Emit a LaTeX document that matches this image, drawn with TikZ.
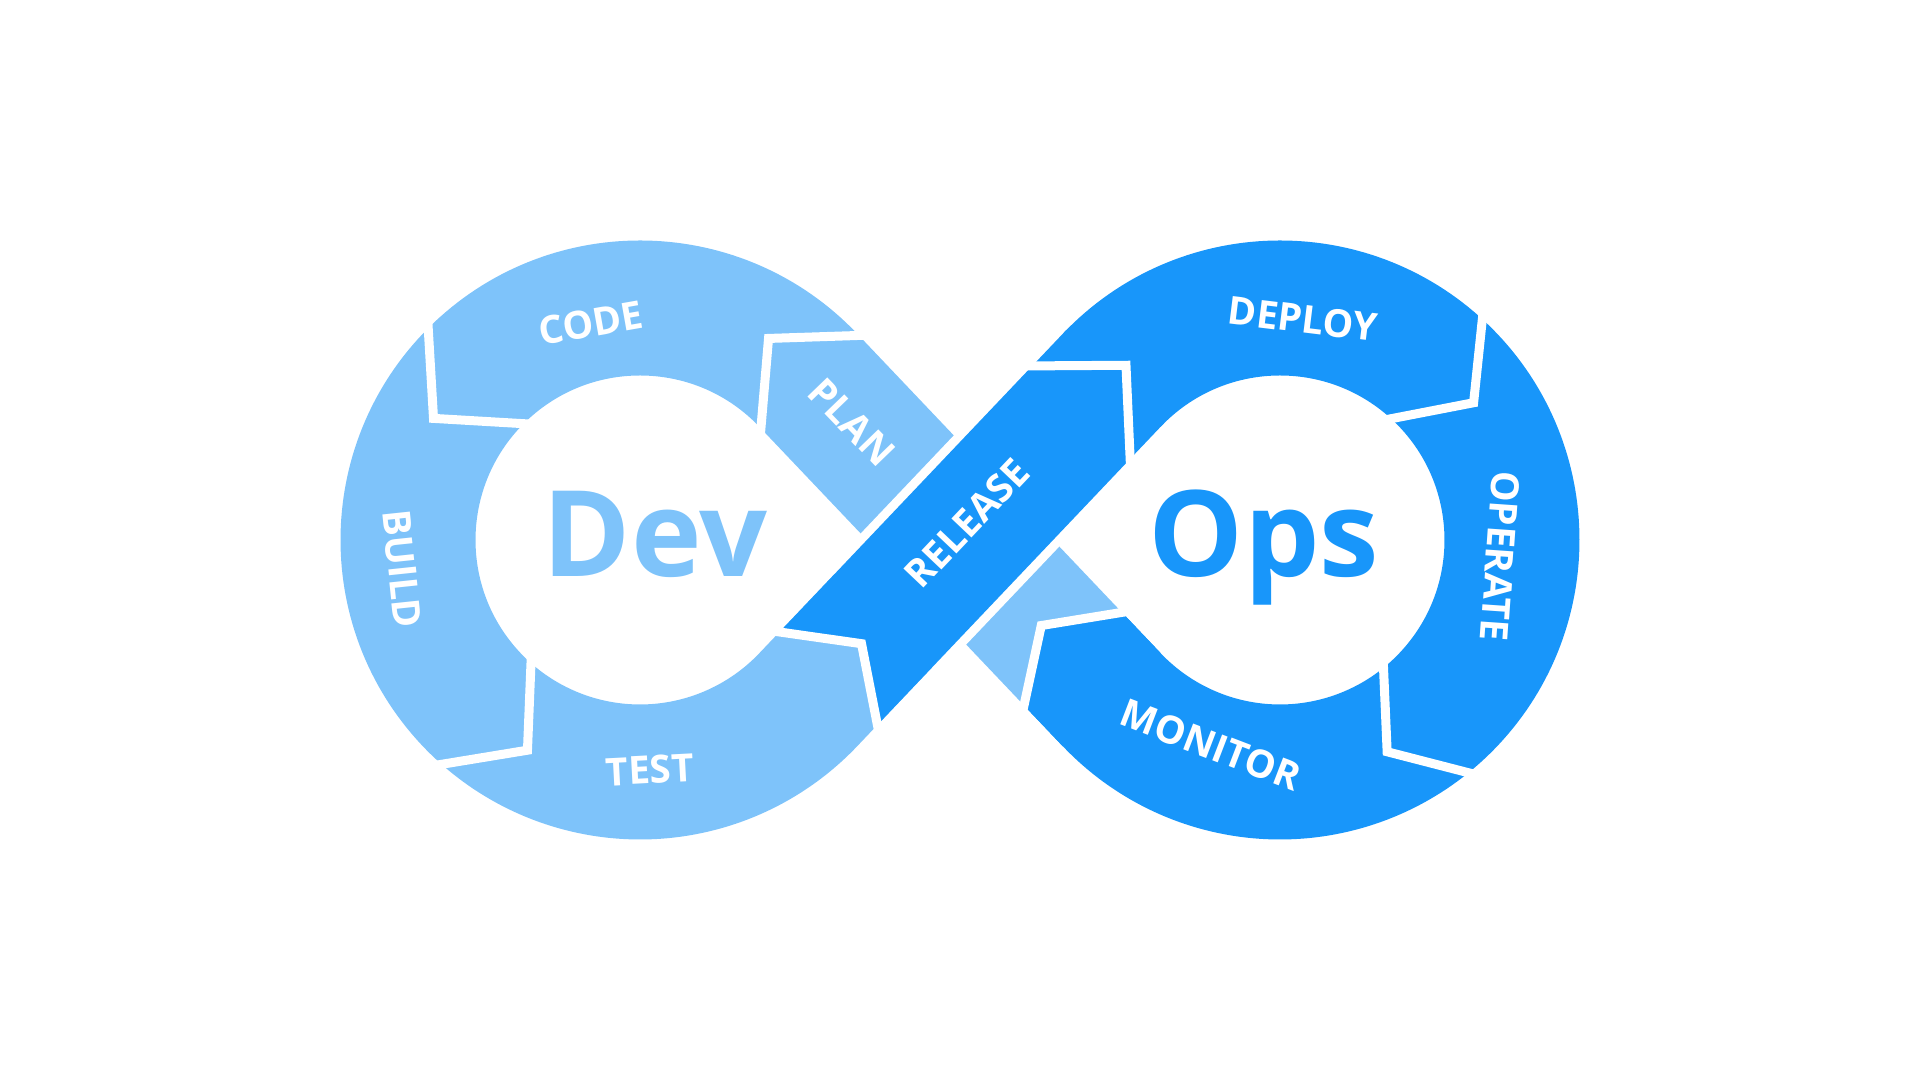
\documentclass[tikz,border=0pt]{standalone}
\usepackage{fontspec}
\setmainfont{Open Sans}[BoldFont={Open Sans Bold}]
\usepackage{xcolor}
\usepackage{tikz}

\definecolor{devblue}{RGB}{126,195,250}
\definecolor{opsblue}{RGB}{24,150,250}
\tikzset{
  band/.style={line width=1.35cm, line cap=butt},
  rim/.style={white, line width=1.53cm, line cap=butt},
  gapline/.style={white, line width=0.09cm, line join=miter},
  stage/.style={white, inner sep=0pt, font=\bfseries\fontsize{11}{13}\selectfont},
  bigword/.style={inner sep=0pt, anchor=base, font=\bfseries\fontsize{34}{40}\selectfont}
}

\begin{document}
\begin{tikzpicture}
  \useasboundingbox (-9.6,-5.4) rectangle (9.6,5.4);
  % where the two diagonals touch the loops
  \coordinate (T1) at (-1.518,1.598);
  \coordinate (T2) at (-1.518,-1.598);
  \coordinate (T3) at (1.518,1.598);
  \coordinate (T4) at (1.518,-1.598);
  \coordinate (trM) at (-1.3154,-1.3848);
  \coordinate (mpM) at (1.1295,-1.189);
  % Dev half: plan, code, build, test
  \draw[band, devblue] (T4) -- (T1) arc[start angle=43.53, end angle=316.47, radius=2.32]
    -- (-0.7644,-0.8048);
  % release passes over plan
  \draw[rim] (-0.70,-0.737) -- (0.70,0.737);
  \begin{scope}
    \clip (-2.0918,-0.879) -- (-0.9848,-1.0368) -- (-0.7704,-2.1342)
      -- (2.6731,1.4908) -- (1.3517,2.746) -- cycle;
    \draw[band, opsblue] (trM) -- (1.552,1.634);
  \end{scope}
  % Ops half: deploy, operate, monitor
  \draw[band, opsblue] (T3) arc[start angle=136.47, end angle=-136.47, radius=2.32] -- (mpM);
  \begin{scope}
    \clip (1.9011,-0.6781) -- (0.8127,-0.8555) -- (0.5797,-1.9333)
      -- (2.6458,-4.1083) -- (3.9672,-2.8531) -- cycle;
    \draw[band, opsblue] (T4) -- (0.6887,-0.725);
  \end{scope}
  % white gaps between the stages
  \draw[gapline] (-0.6961,2.0559) -- (-1.9146,2.0155) -- (-2.0175,0.8006);
  \draw[gapline] (-5.3364,2.4334) -- (-5.2648,1.2162) -- (-4.0476,1.1446);
  \draw[gapline] (-5.4852,-2.2927) -- (-4.3252,-2.1021) -- (-4.2777,-0.9276);
  \draw[gapline] (-2.0918,-0.879) -- (-0.9848,-1.0368) -- (-0.7704,-2.1342);
  \draw[gapline] (0.3947,1.7387) -- (1.6598,1.7473) -- (1.7161,0.4834);
  \draw[gapline] (5.254,2.5006) -- (5.1361,1.3727) -- (4.0228,1.157);
  \draw[gapline] (5.3695,-2.4008) -- (4.2715,-2.1176) -- (4.2225,-0.9845);
  \draw[gapline] (1.9011,-0.6781) -- (0.8127,-0.8555) -- (0.5797,-1.9333);
  % stage names
  \node[stage, rotate=-46] (plan) at (-1.08,1.18) {PLAN};
  \node[stage, rotate=10] (code) at (-3.69,2.17) {CODE};
  \node[stage, rotate=-84] (build) at (-5.58,-0.29) {BUILD};
  \node[stage, rotate=3] (test) at (-3.10,-2.30) {TEST};
  \node[stage, rotate=46.5] (release) at (0.07,0.17) {RELEASE};
  \node[stage, rotate=-7] (deploy) at (3.43,2.21) {DEPLOY};
  \node[stage, rotate=-94] (operate) at (5.40,-0.16) {OPERATE};
  \node[stage, rotate=-21] (monitor) at (2.51,-2.05) {MONITOR};
  % the two words in the holes
  \node[bigword, devblue] (dev) at (-3.05,-0.36) {Dev};
  \node[bigword, opsblue] (ops) at (3.04,-0.36) {Ops};
\end{tikzpicture}
\end{document}
